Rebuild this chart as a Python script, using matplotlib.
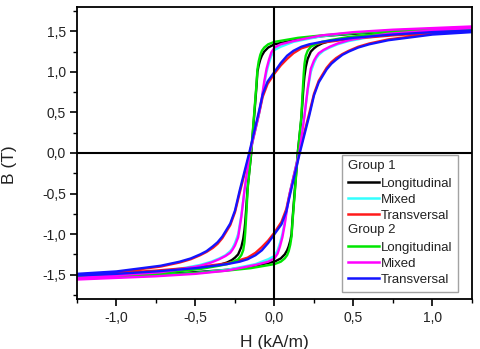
import matplotlib
matplotlib.use("Agg")
import matplotlib.pyplot as plt
from matplotlib.text import Text
from matplotlib.legend_handler import HandlerBase
from matplotlib.ticker import MultipleLocator, FuncFormatter
import numpy as np

plt.rcParams['font.family'] = ['Liberation Sans', 'DejaVu Sans']

# Upper (descending) branch of each loop.
# The ascending branch is the point reflection of it: B(-H) = -B(H).
H_long = [1.25, 1.0, 0.75, 0.5, 0.3, 0.15, 0.0, -0.04, -0.065, -0.08, -0.09, -0.1,
          -0.108, -0.114, -0.126, -0.148, -0.17, -0.178, -0.185, -0.19, -0.198, -0.21,
          -0.23, -0.25, -0.27, -0.3, -0.35, -0.47, -0.72, -1.0, -1.25]
B_long_g1 = [1.54, 1.52, 1.50, 1.47, 1.44, 1.40, 1.34, 1.30, 1.25, 1.20, 1.15, 1.08,
             1.00, 0.82, 0.52, -0.02, -0.42, -0.66, -0.85, -0.95, -1.06, -1.16,
             -1.25, -1.29, -1.32, -1.35, -1.38, -1.42, -1.47, -1.50, -1.52]
B_long_g2 = [1.55, 1.53, 1.51, 1.48, 1.45, 1.42, 1.37, 1.34, 1.30, 1.26, 1.21, 1.13,
             1.03, 0.85, 0.55, 0.0, -0.45, -0.75, -0.98, -1.10, -1.20, -1.26,
             -1.31, -1.33, -1.35, -1.37, -1.39, -1.43, -1.48, -1.50, -1.52]

H_mix = [1.25, 1.0, 0.75, 0.5, 0.3, 0.17, 0.12, 0.08, 0.04, 0.0, -0.02, -0.035, -0.05,
         -0.065, -0.08, -0.1, -0.157, -0.19, -0.21, -0.23, -0.25, -0.265, -0.28, -0.31,
         -0.35, -0.4, -0.47, -0.58, -0.72, -1.0, -1.25]
B_mix_g1 = [1.55, 1.53, 1.51, 1.48, 1.44, 1.39, 1.37, 1.34, 1.31, 1.27, 1.20, 1.11,
            1.00, 0.85, 0.66, 0.46, -0.02, -0.47, -0.77, -1.00, -1.11, -1.17, -1.21,
            -1.26, -1.30, -1.34, -1.38, -1.42, -1.46, -1.50, -1.53]
B_mix_g2 = [1.56, 1.54, 1.52, 1.49, 1.45, 1.40, 1.38, 1.36, 1.34, 1.30, 1.24, 1.15,
            1.04, 0.88, 0.68, 0.47, 0.0, -0.46, -0.79, -1.04, -1.14, -1.19, -1.23,
            -1.27, -1.31, -1.35, -1.39, -1.43, -1.47, -1.51, -1.54]

H_tr = [1.25, 1.0, 0.75, 0.5, 0.3, 0.22, 0.17, 0.12, 0.08, 0.04, 0.0, -0.044, -0.075,
        -0.094, -0.16, -0.22, -0.25, -0.28, -0.33, -0.36, -0.39, -0.43, -0.47, -0.53,
        -0.6, -0.72, -1.0, -1.25]
B_tr_g1 = [1.50, 1.48, 1.45, 1.41, 1.36, 1.32, 1.29, 1.23, 1.16, 1.08, 0.98, 0.85,
           0.69, 0.52, -0.03, -0.49, -0.73, -0.89, -1.05, -1.12, -1.17, -1.22, -1.26,
           -1.31, -1.35, -1.40, -1.47, -1.50]
B_tr_g2 = [1.51, 1.49, 1.46, 1.42, 1.37, 1.34, 1.31, 1.26, 1.20, 1.11, 1.00, 0.88,
           0.72, 0.55, 0.0, -0.46, -0.71, -0.87, -1.03, -1.10, -1.15, -1.21, -1.25,
           -1.30, -1.34, -1.39, -1.46, -1.49]

series = [
    ("Longitudinal", H_long, B_long_g1, "black"),
    ("Mixed", H_mix, B_mix_g1, "#33ffff"),
    ("Transversal", H_tr, B_tr_g1, "#ff1a1a"),
    ("Longitudinal", H_long, B_long_g2, "#00e600"),
    ("Mixed", H_mix, B_mix_g2, "#ff00ff"),
    ("Transversal", H_tr, B_tr_g2, "#1414ff"),
]


class GroupTitle:
    def __init__(self, text):
        self.text = text


class TitleHandler(HandlerBase):
    # draws the group name where the line sample would be
    def create_artists(self, legend, orig_handle, xdescent, ydescent, width,
                       height, fontsize, trans):
        t = Text(-xdescent, -ydescent + height / 2.0, orig_handle.text,
                 fontsize=fontsize, va='center', ha='left', color='#222222',
                 transform=trans)
        return [t]


fig = plt.figure(figsize=(4.8, 3.49), dpi=100)
ax = fig.add_axes([0.1604, 0.1433, 0.8229, 0.8367])

lines = []
for label, H, B, color in series:
    H = np.asarray(H)
    B = np.asarray(B)
    # descending branch, then the mirrored ascending branch
    hh = np.concatenate([H, -H])
    bb = np.concatenate([B, -B])
    ln, = ax.plot(hh, bb, color=color, lw=1.7, solid_joinstyle='round')
    lines.append(ln)

ax.axhline(0, color='black', lw=1.5, zorder=4)
ax.axvline(0, color='black', lw=1.5, zorder=4)

ax.set_xlim(-1.25, 1.25)
ax.set_ylim(-1.8, 1.8)
ax.xaxis.set_major_locator(MultipleLocator(0.5))
ax.xaxis.set_minor_locator(MultipleLocator(0.25))
ax.yaxis.set_major_locator(MultipleLocator(0.5))
ax.yaxis.set_minor_locator(MultipleLocator(0.25))


def comma(v, pos):
    if abs(v) < 1e-9:
        v = 0.0
    return f"{v:.1f}".replace('.', ',')


ax.xaxis.set_major_formatter(FuncFormatter(comma))
ax.yaxis.set_major_formatter(FuncFormatter(comma))
ax.tick_params(which='major', direction='out', length=5, width=1.2,
               labelsize=10, labelcolor='#222222', pad=3)
ax.tick_params(which='minor', direction='out', length=3, width=1.0)
ax.tick_params(axis='x', which='major', pad=4)
for sp in ax.spines.values():
    sp.set_linewidth(1.3)

ax.set_xlabel("H (kA/m)", fontsize=12.5, color='#222222')
ax.set_ylabel("B (T)", fontsize=12.5, color='#222222')
ax.xaxis.set_label_coords(0.5, -0.125)
ax.yaxis.set_label_coords(-0.152, 0.46)

handles = [GroupTitle("Group 1")] + lines[:3] + [GroupTitle("Group 2")] + lines[3:]
labels = [""] + [s[0] for s in series[:3]] + [""] + [s[0] for s in series[3:]]
leg = ax.legend(handles, labels, handler_map={GroupTitle: TitleHandler()},
                loc='lower right', bbox_to_anchor=(0.9646, 0.024),
                bbox_transform=ax.transAxes, borderaxespad=0, fontsize=9.5,
                frameon=True, fancybox=False, edgecolor='#8c8c8c',
                handlelength=2.3, handletextpad=0.15, labelspacing=0.29,
                borderpad=0.45)
leg.get_frame().set_linewidth(1.0)
for t in leg.get_texts():
    t.set_color('#222222')
for lh in leg.get_lines():
    lh.set_linewidth(1.8)

fig.savefig("out.png", dpi=100)
